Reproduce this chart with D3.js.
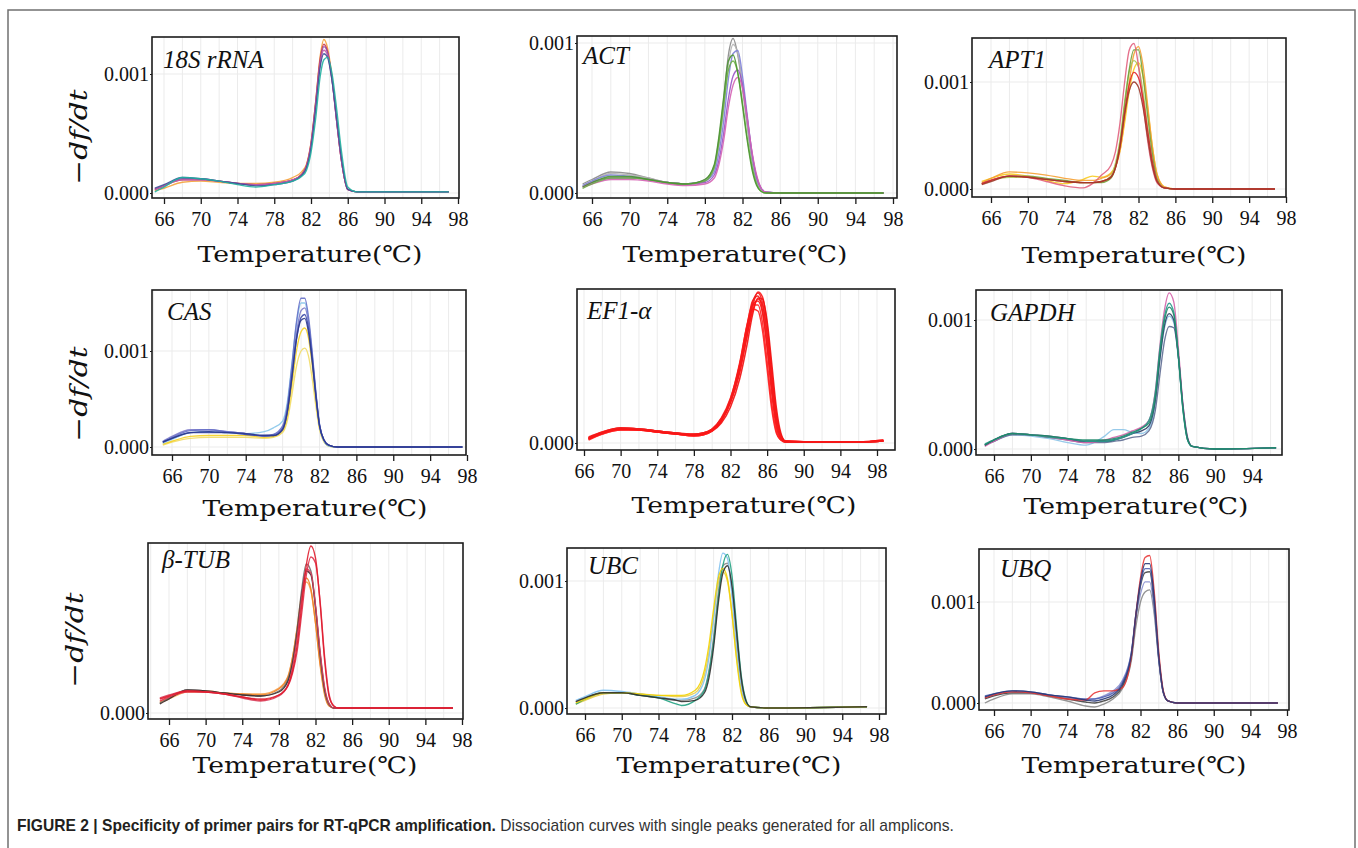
<!DOCTYPE html>
<html>
<head>
<meta charset="utf-8">
<script src="https://cdn.jsdelivr.net/npm/d3@7"></script>
<style>
  body { margin: 0; background: #fff; }
  .vgrid, .hgrid { stroke: #ebebeb; stroke-width: 1; }
  .curve { fill: none; stroke-opacity: 0.9; }
  .box { fill: none; stroke: #1c1c1c; stroke-width: 1.6; }
</style>
</head>
<body>
<svg id="chart" width="1358" height="848"></svg>
<script>

// ---- data (values in units of 0.001 -df/dt) ----
const genes = ["18S rRNA", "ACT", "APT1", "CAS", "EF1-α", "GAPDH", "β-TUB", "UBC", "UBQ"]
const xTicks = [66, 70, 74, 78, 82, 86, 90, 94, 98]
const yTickLabels = ["0.000", "0.001"]

const tempsRRNA = [65, 66, 68, 70, 72, 74, 76, 78, 80, 81, 81.5, 82, 82.5, 83, 83.4, 83.8, 84.3, 84.8, 85.3, 86, 87, 97]
const valuesRRNA = [
  [0.02, 0.04, 0.09, 0.10, 0.09, 0.08, 0.08, 0.09, 0.13, 0.18, 0.24, 0.42, 0.76, 1.15, 1.29, 1.22, 0.97, 0.61, 0.28, 0.03, 0.01, 0.01],
  [0.03, 0.06, 0.11, 0.11, 0.10, 0.08, 0.07, 0.08, 0.11, 0.16, 0.23, 0.42, 0.76, 1.13, 1.25, 1.19, 0.95, 0.60, 0.28, 0.03, 0.01, 0.01],
  [0.03, 0.06, 0.12, 0.12, 0.10, 0.08, 0.07, 0.08, 0.11, 0.15, 0.22, 0.40, 0.74, 1.10, 1.23, 1.18, 0.95, 0.60, 0.28, 0.03, 0.01, 0.01],
  [0.03, 0.06, 0.11, 0.11, 0.10, 0.08, 0.07, 0.08, 0.11, 0.15, 0.22, 0.40, 0.73, 1.09, 1.20, 1.16, 0.94, 0.60, 0.28, 0.03, 0.01, 0.01],
  [0.04, 0.07, 0.13, 0.12, 0.10, 0.08, 0.06, 0.07, 0.10, 0.15, 0.21, 0.38, 0.70, 1.06, 1.17, 1.14, 0.94, 0.62, 0.30, 0.03, 0.01, 0.01],
  [0.01, 0.05, 0.13, 0.12, 0.10, 0.07, 0.05, 0.07, 0.10, 0.14, 0.19, 0.34, 0.62, 0.98, 1.12, 1.14, 1.00, 0.70, 0.36, 0.05, 0.01, 0.01]
]

const tempsACT = [65, 66, 68, 70, 72, 74, 76, 78, 79, 79.5, 80, 80.5, 81, 81.5, 82, 82.5, 83, 83.5, 84, 84.5, 86, 97]
const valuesACT = [
  [0.06, 0.09, 0.14, 0.13, 0.10, 0.07, 0.06, 0.09, 0.18, 0.36, 0.62, 0.92, 1.03, 0.92, 0.70, 0.45, 0.22, 0.08, 0.02, 0.005, 0, 0],
  [0.05, 0.08, 0.13, 0.12, 0.10, 0.07, 0.06, 0.08, 0.16, 0.32, 0.56, 0.86, 0.99, 0.93, 0.72, 0.47, 0.24, 0.09, 0.02, 0.005, 0, 0],
  [0.05, 0.08, 0.12, 0.11, 0.09, 0.07, 0.06, 0.08, 0.14, 0.27, 0.48, 0.76, 0.93, 0.95, 0.78, 0.52, 0.27, 0.10, 0.03, 0.005, 0, 0],
  [0.04, 0.07, 0.10, 0.10, 0.09, 0.07, 0.06, 0.07, 0.12, 0.22, 0.40, 0.63, 0.78, 0.82, 0.72, 0.50, 0.27, 0.11, 0.03, 0.005, 0, 0],
  [0.04, 0.06, 0.09, 0.09, 0.08, 0.06, 0.05, 0.06, 0.10, 0.19, 0.35, 0.57, 0.72, 0.77, 0.70, 0.50, 0.28, 0.12, 0.03, 0.005, 0, 0],
  [0.03, 0.06, 0.10, 0.10, 0.09, 0.07, 0.06, 0.08, 0.17, 0.34, 0.58, 0.82, 0.88, 0.80, 0.60, 0.37, 0.18, 0.06, 0.01, 0, 0, 0],
  [0.04, 0.07, 0.11, 0.11, 0.09, 0.07, 0.06, 0.09, 0.19, 0.38, 0.64, 0.88, 0.92, 0.80, 0.58, 0.35, 0.16, 0.05, 0.01, 0, 0, 0]
]

const tempsAPT1 = [65, 66, 68, 70, 72, 74, 76, 77, 78, 79, 79.5, 80, 80.5, 81, 81.5, 82, 82.5, 83, 83.5, 84, 84.8, 86, 96.8]
const valuesAPT1 = [
  [0.07, 0.10, 0.14, 0.12, 0.08, 0.05, 0.09, 0.12, 0.11, 0.15, 0.22, 0.36, 0.62, 0.92, 1.12, 1.18, 1.05, 0.75, 0.40, 0.14, 0.02, 0, 0],
  [0.06, 0.10, 0.16, 0.15, 0.13, 0.10, 0.08, 0.08, 0.10, 0.14, 0.20, 0.36, 0.66, 1.00, 1.26, 1.33, 1.15, 0.78, 0.40, 0.14, 0.02, 0, 0],
  [0.05, 0.08, 0.11, 0.11, 0.09, 0.07, 0.06, 0.06, 0.07, 0.12, 0.24, 0.46, 0.82, 1.10, 1.20, 1.14, 0.90, 0.56, 0.26, 0.08, 0.01, 0, 0],
  [0.05, 0.08, 0.12, 0.12, 0.10, 0.08, 0.06, 0.06, 0.06, 0.10, 0.20, 0.42, 0.78, 1.12, 1.30, 1.30, 1.05, 0.68, 0.33, 0.10, 0.01, 0, 0],
  [0.05, 0.08, 0.12, 0.11, 0.07, 0.03, 0.01, 0.05, 0.13, 0.22, 0.35, 0.62, 1.00, 1.30, 1.36, 1.15, 0.80, 0.45, 0.20, 0.06, 0.01, 0, 0],
  [0.05, 0.08, 0.12, 0.11, 0.09, 0.07, 0.06, 0.06, 0.07, 0.11, 0.20, 0.40, 0.72, 0.98, 1.09, 1.04, 0.84, 0.54, 0.26, 0.08, 0.01, 0, 0],
  [0.04, 0.07, 0.12, 0.11, 0.09, 0.07, 0.06, 0.06, 0.07, 0.11, 0.20, 0.40, 0.70, 0.92, 1.00, 0.95, 0.76, 0.48, 0.22, 0.07, 0.01, 0, 0]
]

const tempsCAS = [65, 66, 68, 70, 72, 74, 76, 77, 78, 78.5, 79, 79.5, 80, 80.4, 80.8, 81.2, 81.6, 82, 82.5, 83, 84, 97.5]
const valuesCAS = [
  [0.02, 0.05, 0.09, 0.10, 0.10, 0.10, 0.09, 0.10, 0.15, 0.27, 0.54, 0.84, 1.00, 1.03, 0.95, 0.72, 0.43, 0.18, 0.05, 0.01, 0, 0],
  [0.03, 0.06, 0.11, 0.12, 0.12, 0.12, 0.10, 0.11, 0.17, 0.32, 0.64, 1.00, 1.20, 1.24, 1.14, 0.86, 0.51, 0.21, 0.06, 0.01, 0, 0],
  [0.04, 0.08, 0.15, 0.16, 0.15, 0.14, 0.16, 0.20, 0.27, 0.46, 0.86, 1.28, 1.50, 1.50, 1.32, 0.96, 0.55, 0.22, 0.06, 0.01, 0, 0],
  [0.06, 0.11, 0.18, 0.18, 0.16, 0.14, 0.12, 0.13, 0.20, 0.38, 0.76, 1.18, 1.42, 1.45, 1.30, 0.96, 0.56, 0.23, 0.07, 0.02, 0, 0],
  [0.05, 0.10, 0.17, 0.18, 0.16, 0.14, 0.11, 0.13, 0.22, 0.42, 0.84, 1.30, 1.55, 1.55, 1.36, 1.00, 0.58, 0.24, 0.07, 0.02, 0, 0],
  [0.05, 0.09, 0.15, 0.15, 0.15, 0.13, 0.12, 0.12, 0.19, 0.36, 0.72, 1.12, 1.35, 1.38, 1.24, 0.93, 0.55, 0.23, 0.07, 0.02, 0, 0],
  [0.05, 0.09, 0.15, 0.16, 0.15, 0.14, 0.12, 0.12, 0.18, 0.36, 0.72, 1.12, 1.32, 1.34, 1.20, 0.90, 0.53, 0.22, 0.07, 0.02, 0, 0]
]

const tempsEF1 = [66.5, 68, 70, 72, 74, 76, 78, 79, 80, 81, 82, 83, 83.8, 84.4, 85, 85.5, 86, 86.5, 87, 87.5, 88, 92, 96, 98.7]
const valuesEF1 = [
  [0.04, 0.10, 0.14, 0.14, 0.12, 0.10, 0.09, 0.10, 0.14, 0.24, 0.42, 0.72, 1.08, 1.36, 1.51, 1.46, 1.18, 0.72, 0.30, 0.08, 0.02, 0.01, 0.01, 0.03],
  [0.06, 0.11, 0.15, 0.14, 0.12, 0.10, 0.08, 0.09, 0.13, 0.23, 0.42, 0.76, 1.16, 1.42, 1.47, 1.32, 0.95, 0.50, 0.16, 0.04, 0.01, 0.01, 0.01, 0.02],
  [0.03, 0.09, 0.13, 0.13, 0.11, 0.09, 0.07, 0.08, 0.12, 0.22, 0.42, 0.78, 1.18, 1.38, 1.38, 1.20, 0.82, 0.40, 0.12, 0.03, 0.01, 0.01, 0.01, 0.02],
  [0.05, 0.10, 0.14, 0.13, 0.11, 0.09, 0.08, 0.09, 0.12, 0.20, 0.36, 0.64, 0.98, 1.28, 1.45, 1.44, 1.22, 0.80, 0.36, 0.10, 0.02, 0.01, 0.01, 0.02],
  [0.04, 0.09, 0.13, 0.13, 0.11, 0.09, 0.07, 0.08, 0.12, 0.23, 0.44, 0.80, 1.17, 1.34, 1.32, 1.12, 0.74, 0.34, 0.10, 0.03, 0.01, 0.01, 0.01, 0.02],
  [0.05, 0.11, 0.15, 0.14, 0.12, 0.10, 0.08, 0.10, 0.14, 0.25, 0.45, 0.78, 1.14, 1.38, 1.42, 1.30, 0.98, 0.56, 0.20, 0.05, 0.01, 0.01, 0.01, 0.02],
  [0.04, 0.10, 0.14, 0.13, 0.11, 0.09, 0.08, 0.09, 0.13, 0.22, 0.40, 0.70, 1.06, 1.32, 1.44, 1.38, 1.10, 0.66, 0.26, 0.07, 0.02, 0.01, 0.01, 0.03],
  [0.05, 0.10, 0.15, 0.14, 0.12, 0.10, 0.09, 0.10, 0.14, 0.24, 0.42, 0.74, 1.12, 1.40, 1.50, 1.40, 1.06, 0.60, 0.22, 0.06, 0.01, 0.01, 0.01, 0.02]
]

const tempsGAPDH = [65, 66, 68, 70, 72, 74, 76, 78, 79, 80, 81, 82, 82.8, 83.5, 84, 84.5, 85, 85.5, 86, 86.5, 87, 87.5, 90, 96.6]
const valuesGAPDH = [
  [0.03, 0.06, 0.11, 0.10, 0.08, 0.05, 0.03, 0.10, 0.15, 0.15, 0.13, 0.12, 0.16, 0.36, 0.70, 0.94, 1.03, 0.98, 0.70, 0.31, 0.07, 0.02, 0, 0.01],
  [0.03, 0.06, 0.11, 0.11, 0.09, 0.07, 0.05, 0.05, 0.06, 0.07, 0.09, 0.10, 0.14, 0.30, 0.58, 0.84, 0.95, 0.94, 0.72, 0.34, 0.09, 0.02, 0, 0.01],
  [0.02, 0.06, 0.12, 0.11, 0.09, 0.07, 0.05, 0.07, 0.09, 0.11, 0.14, 0.17, 0.22, 0.45, 0.80, 1.08, 1.21, 1.14, 0.78, 0.34, 0.08, 0.02, 0, 0.01],
  [0.03, 0.07, 0.12, 0.11, 0.10, 0.08, 0.06, 0.06, 0.07, 0.09, 0.12, 0.14, 0.18, 0.38, 0.70, 0.96, 1.05, 1.00, 0.72, 0.32, 0.08, 0.02, 0, 0.01],
  [0.04, 0.07, 0.12, 0.11, 0.09, 0.08, 0.06, 0.06, 0.07, 0.09, 0.12, 0.16, 0.22, 0.44, 0.78, 1.03, 1.13, 1.06, 0.72, 0.30, 0.07, 0.02, 0, 0.01],
  [0.03, 0.07, 0.12, 0.11, 0.10, 0.08, 0.07, 0.07, 0.08, 0.10, 0.13, 0.16, 0.20, 0.40, 0.74, 1.00, 1.10, 1.04, 0.72, 0.31, 0.07, 0.02, 0, 0.01]
]

const tempsTUB = [65, 66, 68, 70, 72, 74, 76, 78, 79, 79.5, 80, 80.5, 81, 81.5, 82, 82.5, 83, 83.5, 84, 84.5, 86, 97]
const valuesTUB = [
  [0.10, 0.14, 0.21, 0.21, 0.20, 0.19, 0.19, 0.25, 0.37, 0.56, 0.84, 1.16, 1.31, 1.22, 0.90, 0.50, 0.20, 0.07, 0.05, 0.05, 0.05, 0.05],
  [0.11, 0.15, 0.22, 0.22, 0.20, 0.19, 0.18, 0.24, 0.36, 0.56, 0.86, 1.20, 1.35, 1.24, 0.90, 0.48, 0.18, 0.07, 0.05, 0.05, 0.05, 0.05],
  [0.10, 0.15, 0.23, 0.22, 0.20, 0.18, 0.17, 0.22, 0.34, 0.52, 0.84, 1.24, 1.49, 1.42, 1.06, 0.58, 0.22, 0.08, 0.05, 0.05, 0.05, 0.05],
  [0.09, 0.14, 0.23, 0.22, 0.20, 0.18, 0.17, 0.21, 0.32, 0.50, 0.80, 1.18, 1.42, 1.38, 1.06, 0.60, 0.24, 0.09, 0.05, 0.05, 0.05, 0.05],
  [0.15, 0.18, 0.22, 0.21, 0.19, 0.15, 0.12, 0.17, 0.28, 0.46, 0.76, 1.16, 1.44, 1.40, 1.08, 0.62, 0.26, 0.09, 0.05, 0.05, 0.05, 0.05],
  [0.12, 0.16, 0.21, 0.21, 0.19, 0.16, 0.14, 0.18, 0.27, 0.40, 0.62, 1.00, 1.38, 1.56, 1.50, 1.12, 0.56, 0.18, 0.07, 0.05, 0.05, 0.05],
  [0.14, 0.17, 0.22, 0.21, 0.19, 0.16, 0.13, 0.18, 0.28, 0.42, 0.68, 1.08, 1.48, 1.67, 1.55, 1.10, 0.52, 0.16, 0.07, 0.05, 0.05, 0.05]
]

const tempsUBC = [65, 66, 68, 70, 72, 74, 76, 76.5, 78, 79, 79.5, 80, 80.5, 81, 81.5, 82, 82.5, 83, 83.5, 84, 86, 96.7]
const valuesUBC = [
  [0.03, 0.06, 0.11, 0.12, 0.11, 0.10, 0.09, 0.09, 0.12, 0.26, 0.44, 0.72, 0.98, 1.07, 1.00, 0.74, 0.40, 0.14, 0.03, 0.01, 0, 0.01],
  [0.05, 0.08, 0.12, 0.12, 0.10, 0.08, 0.06, 0.06, 0.08, 0.15, 0.30, 0.56, 0.90, 1.12, 1.14, 0.92, 0.54, 0.20, 0.05, 0.01, 0, 0.01],
  [0.06, 0.09, 0.14, 0.13, 0.11, 0.09, 0.07, 0.07, 0.10, 0.22, 0.40, 0.70, 1.04, 1.22, 1.18, 0.88, 0.46, 0.16, 0.04, 0.01, 0, 0.01],
  [0.03, 0.07, 0.12, 0.12, 0.10, 0.08, 0.03, 0.02, 0.06, 0.14, 0.28, 0.52, 0.86, 1.12, 1.21, 1.04, 0.64, 0.26, 0.07, 0.01, 0, 0.01],
  [0.04, 0.07, 0.12, 0.12, 0.11, 0.10, 0.10, 0.10, 0.14, 0.30, 0.50, 0.78, 1.02, 1.10, 1.02, 0.74, 0.38, 0.12, 0.03, 0.01, 0, 0.01],
  [0.05, 0.08, 0.12, 0.12, 0.10, 0.08, 0.06, 0.05, 0.06, 0.12, 0.24, 0.48, 0.82, 1.06, 1.12, 0.96, 0.60, 0.24, 0.06, 0.01, 0, 0.01]
]

const tempsUBQ = [65, 66, 68, 70, 72, 74, 76, 77, 78, 79, 80, 81, 81.5, 82, 82.5, 83, 83.5, 84, 84.5, 85, 86, 97]
const valuesUBQ = [
  [0.00, 0.04, 0.09, 0.09, 0.06, 0.02, -0.03, -0.04, -0.01, 0.04, 0.14, 0.42, 0.76, 1.00, 1.10, 1.12, 0.88, 0.42, 0.10, 0.02, 0, 0],
  [0.05, 0.08, 0.11, 0.10, 0.08, 0.05, 0.03, 0.04, 0.07, 0.12, 0.22, 0.50, 0.84, 1.08, 1.20, 1.20, 0.92, 0.42, 0.10, 0.02, 0, 0],
  [0.04, 0.07, 0.10, 0.10, 0.07, 0.04, 0.01, 0.00, 0.02, 0.06, 0.16, 0.46, 0.86, 1.16, 1.29, 1.30, 0.98, 0.44, 0.10, 0.02, 0, 0],
  [0.07, 0.09, 0.12, 0.11, 0.08, 0.06, 0.04, 0.04, 0.06, 0.10, 0.20, 0.50, 0.88, 1.18, 1.33, 1.33, 1.00, 0.44, 0.10, 0.02, 0, 0],
  [0.05, 0.08, 0.11, 0.10, 0.07, 0.04, 0.03, 0.10, 0.12, 0.12, 0.15, 0.46, 0.88, 1.24, 1.44, 1.46, 1.10, 0.50, 0.12, 0.02, 0, 0],
  [0.06, 0.09, 0.12, 0.11, 0.08, 0.06, 0.03, 0.02, 0.04, 0.08, 0.18, 0.48, 0.88, 1.20, 1.38, 1.38, 1.04, 0.46, 0.11, 0.02, 0, 0]
]

const panelTemps = [tempsRRNA, tempsACT, tempsAPT1, tempsCAS, tempsEF1, tempsGAPDH, tempsTUB, tempsUBC, tempsUBQ]
const panelValues = [valuesRRNA, valuesACT, valuesAPT1, valuesCAS, valuesEF1, valuesGAPDH, valuesTUB, valuesUBC, valuesUBQ]

// ---- styles & layout ----
const panelColors = [
  ["#f5a23c", "#c8384e", "#8e46a8", "#c25aa6", "#3d4f98", "#20b0a0"],
  ["#8a8a8a", "#b2b2b2", "#7d80d8", "#9a52c6", "#d462b2", "#6cb044", "#4a9630"],
  ["#f7cb22", "#f5a032", "#a8c454", "#72a23c", "#e2607e", "#e0242e", "#9e3a2a"],
  ["#f2dc66", "#f4d024", "#88c6ea", "#7e7cca", "#6670c8", "#3a48a8", "#2c3a8e"],
  ["#ff1a1a", "#f51515", "#ff2424", "#f01010", "#ff1e1e", "#f81818", "#ff1212", "#f21c1c"],
  ["#8cc4e8", "#5e6c92", "#d462a8", "#2c3c62", "#2a9a8c", "#1f8a6a"],
  ["#f5a452", "#f08022", "#707070", "#3c2c2c", "#d8405e", "#e0304a", "#e01c2c"],
  ["#e8cc4c", "#8a8a8a", "#82c2f0", "#22a282", "#f2d200", "#303030"],
  ["#8a8a8a", "#8890d0", "#444444", "#5262b2", "#e83838", "#2a3a78"]
]

// box: [left, top, right, bottom]; x66/x98: pixel of 66°C / 98°C; y0/y1: pixel of 0.000 / 0.001
const layout = [
  {box: [152, 37, 459, 198], x66: 164, x98: 458, y0: 193, y1: 74, yTicks: [0, 1], title: [163, 68], xlab: [310, 262], ylab: [87, 137]},
  {box: [577, 36, 897, 198], x66: 592, x98: 893, y0: 193, y1: 43, yTicks: [0, 1], title: [583, 64], xlab: [735, 262]},
  {box: [972, 38, 1286, 197], x66: 991, x98: 1286, y0: 189, y1: 82, yTicks: [0, 1], title: [989, 68], xlab: [1134, 263]},
  {box: [152, 290, 466, 455], x66: 172, x98: 467, y0: 447, y1: 351, yTicks: [0, 1], title: [167, 320], xlab: [315, 516], ylab: [87, 394]},
  {box: [577, 289, 895, 450], x66: 584, x98: 877, y0: 443, y1: 343, yTicks: [0], title: [587, 319], xlab: [744, 513]},
  {box: [976, 290, 1282, 455], x66: 994, x98: 1289, y0: 449, y1: 320, yTicks: [0, 1], title: [990, 321], xlab: [1136, 514]},
  {box: [148, 543, 463, 719], x66: 169, x98: 462, y0: 713, y1: 613, yTicks: [0], title: [162, 568], xlab: [305, 773], ylab: [83, 640]},
  {box: [567, 548, 886, 714], x66: 585, x98: 879, y0: 708, y1: 581, yTicks: [0, 1], title: [588, 574], xlab: [729, 773]},
  {box: [979, 549, 1289, 710], x66: 994, x98: 1287, y0: 703, y1: 602, yTicks: [0, 1], title: [1000, 577], xlab: [1134, 773]}
]

const serif = "'Liberation Serif', 'Times New Roman', serif"
const labelFont = "'DejaVu Serif', 'Liberation Serif', serif"

function drawChart() {
  const svg = d3.select("#chart")

  // outer frame (open at the bottom)
  svg.append("path")
    .attr("d", "M8,848V10H1355V848")
    .attr("fill", "none")
    .attr("stroke", "#707070")
    .attr("stroke-width", 1.5)

  genes.forEach((gene, i) => {
    const L = layout[i]
    const [bx0, by0, bx1, by1] = L.box
    const temps = panelTemps[i]
    const colors = panelColors[i]

    const x = d3.scaleLinear().domain([66, 98]).range([L.x66, L.x98])
    const y = d3.scaleLinear().domain([0, 1]).range([L.y0, L.y1])

    const g = svg.append("g").attr("class", "panel")

    const clipId = "clip-" + i
    g.append("clipPath").attr("id", clipId)
      .append("rect")
        .attr("x", bx0).attr("y", by0)
        .attr("width", bx1 - bx0).attr("height", by1 - by0)

    // grid
    const gridTemps = d3.range(60, 100, 2).filter(t => x(t) > bx0 + 1 && x(t) < bx1 - 1)
    g.selectAll(".vgrid").data(gridTemps).join("line")
      .attr("class", "vgrid")
      .attr("x1", d => x(d)).attr("x2", d => x(d))
      .attr("y1", by0).attr("y2", by1)

    g.selectAll(".hgrid").data(L.yTicks).join("line")
      .attr("class", "hgrid")
      .attr("x1", bx0).attr("x2", bx1)
      .attr("y1", d => y(d)).attr("y2", d => y(d))

    // curves
    const line = d3.line()
      .x(d => x(d[0]))
      .y(d => y(d[1]))
      .curve(d3.curveMonotoneX)

    g.append("g")
      .attr("clip-path", `url(#${clipId})`)
      .selectAll("path")
      .data(panelValues[i])
      .join("path")
        .attr("class", "curve")
        .attr("stroke", (d, j) => colors[j % colors.length])
        .attr("stroke-width", i === 4 ? 1.5 : 1.35)
        .attr("d", vals => line(d3.zip(temps, vals)))

    // frame
    g.append("rect")
      .attr("class", "box")
      .attr("x", bx0).attr("y", by0)
      .attr("width", bx1 - bx0).attr("height", by1 - by0)

    // gene label
    g.append("text")
      .attr("x", L.title[0]).attr("y", L.title[1])
      .attr("font-family", serif)
      .attr("font-style", "italic")
      .attr("font-size", 25)
      .attr("fill", "#111")
      .text(gene)

    // x axis
    const shownTicks = xTicks.filter(t => x(t) >= bx0 - 1 && x(t) <= bx1 + 1.5)
    const xAxis = g.append("g")
      .attr("transform", `translate(0,${by1})`)
      .call(d3.axisBottom(x).tickValues(shownTicks).tickSize(6).tickPadding(8).tickSizeOuter(0))
    xAxis.select(".domain").remove()
    xAxis.selectAll("line").attr("stroke", "#1c1c1c").attr("stroke-width", 1.3)
    xAxis.selectAll("text")
      .attr("font-family", serif)
      .attr("font-size", 20)
      .attr("fill", "#111")

    // y axis
    const yAxis = g.append("g")
      .attr("transform", `translate(${bx0},0)`)
      .call(d3.axisLeft(y).tickValues(L.yTicks).tickFormat(d => yTickLabels[d]).tickSize(2).tickPadding(1).tickSizeOuter(0))
    yAxis.select(".domain").remove()
    yAxis.selectAll("line").attr("stroke", "#1c1c1c")
    yAxis.selectAll("text")
      .attr("font-family", serif)
      .attr("font-size", 20)
      .attr("fill", "#111")

    // axis titles
    g.append("text")
      .attr("x", L.xlab[0]).attr("y", L.xlab[1])
      .attr("text-anchor", "middle")
      .attr("font-family", labelFont)
      .attr("font-size", 23)
      .attr("fill", "#111")
      .attr("textLength", 225)
      .attr("lengthAdjust", "spacingAndGlyphs")
      .text("Temperature(℃)")

    if (L.ylab) {
      g.append("text")
        .attr("transform", `translate(${L.ylab[0]},${L.ylab[1]}) rotate(-90)`)
        .attr("text-anchor", "middle")
        .attr("font-family", labelFont)
        .attr("font-style", "italic")
        .attr("font-size", 25)
        .attr("fill", "#111")
        .attr("textLength", 95)
        .attr("lengthAdjust", "spacingAndGlyphs")
        .text("−df/dt")
    }
  })

  // caption
  const cap = svg.append("g").attr("transform", "translate(17,831)")
  const capText = cap.append("text")
    .attr("font-family", "'Liberation Sans Narrow', 'Liberation Sans', Arial, sans-serif")
    .attr("font-size", 16)
    .attr("fill", "#231f20")
  capText.append("tspan")
    .attr("font-weight", "bold")
    .text("FIGURE 2 | Specificity of primer pairs for RT-qPCR amplification.")
  capText.append("tspan")
    .attr("fill", "#333")
    .text(" Dissociation curves with single peaks generated for all amplicons.")
  const w = capText.node().getBBox().width
  capText.attr("transform", `scale(${938 / w},1)`)
}

drawChart()
</script>
</body>
</html>
